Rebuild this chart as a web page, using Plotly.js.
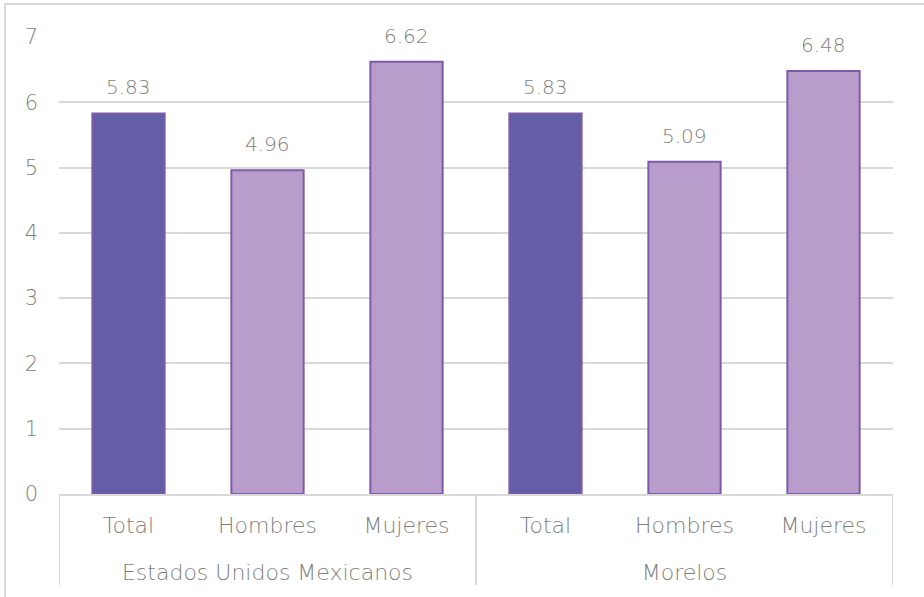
<!DOCTYPE html>
<html>
<head>
<meta charset="utf-8">
<script src="https://cdn.plot.ly/plotly-3.0.1.min.js"></script>
<style>
  html, body { margin: 0; padding: 0; background: #ffffff; }
  #wrap { position: relative; width: 924px; height: 597px; overflow: hidden; }
  #chart { width: 924px; height: 597px; }
  #frame { position: absolute; left: 4px; top: 3px; width: 1000px; height: 1000px;
           border: 2px solid #d9d9d9; pointer-events: none; box-sizing: border-box; }
</style>
</head>
<body>
<div id="wrap">
  <div id="chart"></div>
  <div id="frame"></div>
</div>
<script>
// Data
const groups = ["Estados Unidos Mexicanos", "Estados Unidos Mexicanos", "Estados Unidos Mexicanos",
                "Morelos", "Morelos", "Morelos"];
const categories = ["Total", "Hombres", "Mujeres", "Total", "Hombres", "Mujeres"];
const values = [5.83, 4.96, 6.62, 5.83, 5.09, 6.48];
const yTicks = [0, 1, 2, 3, 4, 5, 6, 7];

const darkColor = "#635ea6";
const lightColor = "#b89ccb";
const fillColors = categories.map(c => c === "Total" ? darkColor : lightColor);

const FONT = "'DejaVu Sans', sans-serif";
const TXT = "#7f7f7f";
const GRID = "#d9d9d9";

// positions derived from the arrays
const idx = categories.map((c, i) => i);
const groupNames = [...new Set(groups)];
const groupCenters = groupNames.map(g => {
  const ii = idx.filter(i => groups[i] === g);
  return (ii[0] + ii[ii.length - 1]) / 2;
});
const boundaries = [-0.5];
groupNames.forEach(g => {
  const ii = idx.filter(i => groups[i] === g);
  boundaries.push(ii[ii.length - 1] + 0.5);
});

// Layout geometry (pixels)
const W = 924, Ht = 597, MT = 37, MB = 0;
const plotH = Ht - MT - MB;
const axisPx = 494;          // y pixel of the category axis line
const groupAxisPx = 557;     // y pixel of the (invisible) group axis line
const dividerEndPx = 585;
const toPaper = px => (Ht - MB - px) / plotH;

const trace = {
  type: "bar",
  x: idx,
  y: values,
  width: 0.52,
  marker: {
    color: fillColors,
    line: { color: "#7d5ba8", width: 2 }
  },
  hoverinfo: "skip"
};

// invisible trace to bind the group axis
const groupTrace = {
  type: "scatter",
  x: groupCenters,
  y: groupCenters.map(() => 0),
  xaxis: "x2",
  yaxis: "y",
  mode: "none",
  hoverinfo: "skip",
  showlegend: false
};

const annotations = values.map((v, i) => ({
  x: i,
  y: v,
  xref: "x",
  yref: "y",
  text: v.toFixed(2),
  showarrow: false,
  yanchor: "middle",
  yshift: 26,
  font: { family: FONT, size: 20, color: TXT, weight: 200 }
}));

const shapes = boundaries.map(b => ({
  type: "line",
  xref: "x",
  yref: "paper",
  x0: b, x1: b,
  y0: toPaper(axisPx), y1: toPaper(dividerEndPx),
  line: { color: GRID, width: 2 }
}));

const layout = {
  width: W,
  height: Ht,
  margin: { l: 58.5, r: 30.5, t: MT, b: MB },
  paper_bgcolor: "#ffffff",
  plot_bgcolor: "#ffffff",
  showlegend: false,
  font: { family: FONT, color: TXT, size: 21, weight: 200 },
  annotations: annotations,
  shapes: shapes,
  xaxis: {
    range: [-0.5, categories.length - 0.5],
    tickvals: idx,
    ticktext: categories,
    showline: true,
    linecolor: GRID,
    linewidth: 2,
    showgrid: false,
    zeroline: false,
    ticks: "",
    ticklabelstandoff: 11,
    tickfont: { family: FONT, size: 22, color: TXT, weight: 200 }
  },
  xaxis2: {
    overlaying: "x",
    anchor: "free",
    position: toPaper(groupAxisPx),
    side: "bottom",
    range: [-0.5, categories.length - 0.5],
    tickvals: groupCenters,
    ticktext: groupNames,
    showline: false,
    showgrid: false,
    zeroline: false,
    ticks: "",
    tickfont: { family: FONT, size: 22, color: TXT, weight: 200 }
  },
  yaxis: {
    domain: [toPaper(axisPx), 1],
    range: [0, 7],
    tickvals: yTicks,
    ticktext: yTicks.map(String),
    showgrid: true,
    gridcolor: GRID,
    gridwidth: 2,
    zeroline: false,
    showline: false,
    ticks: "",
    ticklabelstandoff: 20,
    tickfont: { family: FONT, size: 21, color: TXT, weight: 200 }
  }
};

Plotly.newPlot("chart", [trace, groupTrace], layout, { displayModeBar: false, staticPlot: true });
</script>
</body>
</html>
